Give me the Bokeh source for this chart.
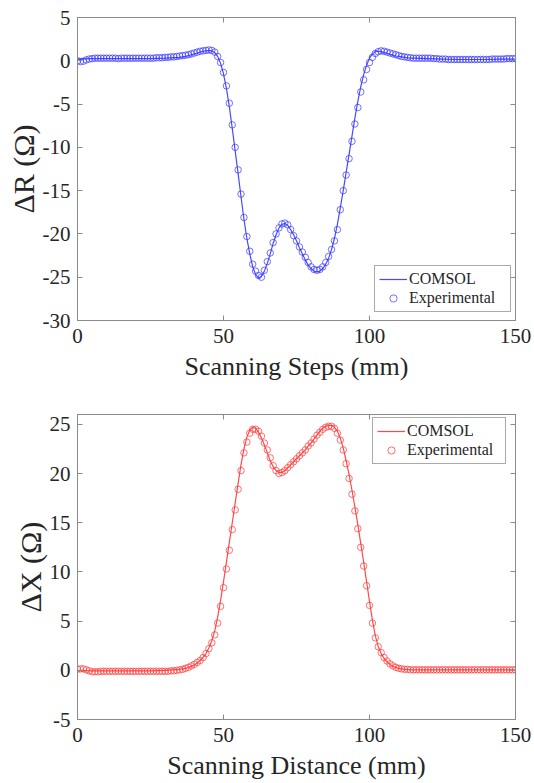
from bokeh.plotting import figure
from bokeh.models import LinearAxis, Legend, LegendItem, FixedTicker, Range1d, PrintfTickFormatter
from bokeh.layouts import column
from bokeh.embed import file_html
from bokeh.resources import INLINE

# ---------------- data ----------------
x_ticks = [0, 50, 100, 150]
r_ticks = [-30, -25, -20, -15, -10, -5, 0, 5]
x_ticks_b = [-5, 0, 5, 10, 15, 20, 25]

exp_x = list(range(0, 151))

exp_dR = [
    0.0, -0.1, -0.05, 0.1, 0.2, 0.25, 0.3, 0.3, 0.3, 0.3,
    0.3, 0.3, 0.3, 0.3, 0.25, 0.3, 0.3, 0.3, 0.3, 0.3,
    0.3, 0.3, 0.3, 0.3, 0.3, 0.3, 0.3, 0.35, 0.35, 0.35,
    0.4, 0.4, 0.45, 0.45, 0.5, 0.55, 0.6, 0.65, 0.7, 0.8,
    0.9, 1.0, 1.1, 1.15, 1.2, 1.25, 1.2, 1.0, 0.5, -0.2,
    -1.35, -2.9, -4.9, -7.4, -10.0, -12.6, -15.4, -18.1, -20.3, -22.0,
    -23.5, -24.3, -24.8, -25.0, -24.2, -23.2, -22.2, -21.0, -20.0, -19.3,
    -18.85, -18.75, -18.95, -19.5, -20.2, -20.8, -21.5, -22.1, -22.7, -23.3,
    -23.8, -24.1, -24.2, -24.1, -23.8, -23.3, -22.6, -21.8, -20.8, -19.5,
    -17.2, -15.0, -13.2, -11.3, -9.3, -7.3, -5.4, -3.6, -2.2, -1.0,
    -0.2, 0.4, 0.85, 1.05, 1.15, 1.1, 1.0, 0.9, 0.8, 0.7,
    0.6, 0.5, 0.45, 0.4, 0.35, 0.3, 0.3, 0.3, 0.3, 0.3,
    0.3, 0.3, 0.25, 0.25, 0.2, 0.2, 0.2, 0.15, 0.15, 0.15,
    0.15, 0.15, 0.15, 0.15, 0.15, 0.15, 0.15, 0.15, 0.15, 0.15,
    0.15, 0.15, 0.2, 0.2, 0.2, 0.2, 0.2, 0.25, 0.25, 0.25,
    0.25,
]

exp_dX = [
    0.1, 0.15, 0.15, 0.05, -0.05, -0.15, -0.15, -0.15, -0.1, -0.1,
    -0.1, -0.1, -0.1, -0.1, -0.1, -0.1, -0.1, -0.1, -0.1, -0.1,
    -0.1, -0.1, -0.1, -0.1, -0.1, -0.1, -0.1, -0.1, -0.1, -0.1,
    -0.1, -0.1, -0.05, -0.05, 0.0, 0.05, 0.1, 0.2, 0.3, 0.45,
    0.6, 0.8, 1.0, 1.3, 1.7, 2.2, 2.8, 3.6, 4.8, 6.5,
    8.4, 10.3, 12.2, 14.3, 16.3, 18.4, 20.3, 22.1, 23.2, 24.1,
    24.5, 24.5, 24.3, 23.8, 23.1, 22.4, 21.6, 20.8, 20.3, 20.0,
    20.1, 20.3, 20.6, 20.9, 21.2, 21.5, 21.8, 22.1, 22.4, 22.8,
    23.1, 23.5, 23.9, 24.2, 24.5, 24.7, 24.8, 24.8, 24.6, 24.1,
    23.4, 22.4, 21.0, 19.5, 17.9, 16.2, 14.4, 12.5, 10.6, 8.6,
    6.6, 4.8, 3.3, 2.4, 1.8, 1.3, 0.95, 0.65, 0.45, 0.3,
    0.2, 0.15, 0.1, 0.1, 0.05, 0.05, 0.05, 0.05, 0.05, 0.05,
    0.05, 0.05, 0.05, 0.05, 0.05, 0.05, 0.05, 0.05, 0.05, 0.05,
    0.05, 0.05, 0.05, 0.05, 0.05, 0.05, 0.05, 0.05, 0.05, 0.05,
    0.05, 0.05, 0.05, 0.05, 0.05, 0.05, 0.05, 0.05, 0.05, 0.05,
    0.05,
]

sim_x = [0, 5, 10, 15, 20, 25, 30, 35] + list(range(36, 116)) + [120, 125, 130, 135, 140, 145, 150]

sim_dR = [
    0.2, 0.25, 0.25, 0.25, 0.25, 0.25, 0.3, 0.4,
    0.45, 0.5, 0.6, 0.7, 0.8, 0.9, 1.0, 1.1, 1.15, 1.2,
    1.15, 0.95, 0.5, -0.3, -1.5, -3.2, -5.3, -7.8, -10.4, -13.0,
    -15.7, -18.3, -20.5, -22.3, -23.8, -24.7, -25.1, -24.9, -24.3, -23.4,
    -22.3, -21.1, -20.1, -19.3, -18.9, -18.8, -19.0, -19.5, -20.1, -20.8,
    -21.6, -22.3, -23.0, -23.6, -24.0, -24.3, -24.4, -24.3, -24.0, -23.5,
    -22.8, -21.8, -20.5, -18.9, -17.0, -15.0, -12.9, -10.8, -8.7, -6.6,
    -4.7, -3.0, -1.6, -0.5, 0.3, 0.8, 1.05, 1.1, 1.05, 0.95,
    0.85, 0.75, 0.65, 0.55, 0.5, 0.45, 0.4, 0.35, 0.3, 0.3,
    0.25, 0.2, 0.15, 0.15, 0.15, 0.2, 0.2,
]

sim_dX = [
    0.0, -0.05, -0.05, -0.05, -0.05, -0.05, 0.0, 0.1,
    0.15, 0.2, 0.3, 0.4, 0.55, 0.75, 1.0, 1.3, 1.7, 2.3,
    3.0, 4.0, 5.4, 7.1, 9.0, 11.0, 13.0, 15.0, 17.0, 19.0,
    20.9, 22.5, 23.7, 24.4, 24.7, 24.6, 24.2, 23.6, 22.9, 22.1,
    21.3, 20.7, 20.3, 20.1, 20.1, 20.3, 20.6, 20.9, 21.2, 21.5,
    21.8, 22.1, 22.4, 22.8, 23.1, 23.5, 23.9, 24.3, 24.6, 24.8,
    24.9, 24.9, 24.7, 24.3, 23.6, 22.6, 21.3, 19.9, 18.3, 16.6,
    14.8, 12.9, 11.0, 9.0, 7.0, 5.1, 3.5, 2.4, 1.7, 1.2,
    0.85, 0.6, 0.4, 0.3, 0.2, 0.15, 0.1, 0.1, 0.05, 0.05,
    0.05, 0.05, 0.05, 0.05, 0.05, 0.05, 0.05,
]

FONT = "Liberation Serif"
FRAME = "#8a8a8a"
TXT = "#262626"


def style_axis(ax, labels=True):
    ax.axis_line_color = FRAME
    ax.major_tick_line_color = FRAME
    ax.major_tick_in = 5
    ax.major_tick_out = 0
    ax.minor_tick_line_color = None
    if labels:
        ax.formatter = PrintfTickFormatter(format="%d")
        ax.major_label_text_font = FONT
        ax.major_label_text_font_size = "21px"
        ax.major_label_text_color = TXT
        ax.axis_label_text_font = FONT
        ax.axis_label_text_font_style = "normal"
        ax.axis_label_text_color = TXT
    else:
        ax.major_label_text_font_size = "1px"
        ax.major_label_text_color = None


def make_plot(ylim, yticks, xlabel, ylabel, sx, sy, ex, ey, color, top_b, bot_b, fh, leg_loc, leg_w):
    p = figure(frame_width=438, frame_height=fh, output_backend="svg", toolbar_location=None,
               x_range=Range1d(0, 150), y_range=Range1d(*ylim),
               min_border_left=77, min_border_right=19, min_border_top=top_b, min_border_bottom=bot_b)
    p.xgrid.visible = False
    p.ygrid.visible = False
    p.outline_line_color = FRAME
    p.background_fill_color = "white"
    p.border_fill_color = "white"

    p.xaxis.ticker = FixedTicker(ticks=x_ticks)
    p.yaxis.ticker = FixedTicker(ticks=yticks)
    p.xaxis.axis_label = xlabel
    p.yaxis.axis_label = ylabel
    for ax in p.xaxis + p.yaxis:
        style_axis(ax)
    p.xaxis.axis_label_text_font_size = "26px"
    p.yaxis.axis_label_text_font_size = "30px"
    p.xaxis.major_label_standoff = 8
    p.yaxis.major_label_standoff = 7
    p.xaxis.axis_label_standoff = 6
    p.yaxis.axis_label_standoff = 0

    ra = LinearAxis(ticker=FixedTicker(ticks=yticks))
    style_axis(ra, labels=False)
    p.add_layout(ra, "right")
    ta = LinearAxis(ticker=FixedTicker(ticks=x_ticks))
    style_axis(ta, labels=False)
    p.add_layout(ta, "above")

    lr = p.line(sx, sy, line_color=color, line_width=1.2, line_alpha=0.9)
    sr = p.scatter(ex, ey, marker="circle", size=6.5, fill_color=None,
                   line_color=color, line_width=1, line_alpha=0.7)

    leg = Legend(items=[LegendItem(label="COMSOL", renderers=[lr]),
                        LegendItem(label="Experimental", renderers=[sr])],
                 location=leg_loc)
    leg.label_text_font = FONT
    leg.label_text_font_size = "16px"
    leg.label_text_color = TXT
    leg.glyph_width = 28
    leg.glyph_height = 18
    leg.label_height = 18
    leg.label_width = leg_w
    leg.label_standoff = 2
    leg.spacing = 1
    leg.padding = 4
    leg.margin = 0
    leg.border_line_color = "#555555"
    leg.border_line_width = 1
    leg.background_fill_alpha = 1
    p.add_layout(leg)
    return p


p1 = make_plot((-30, 5), r_ticks, "Scanning Steps (mm)", "ΔR (Ω)", sim_x, sim_dR, exp_x, exp_dR,
               "#3535ff", 17, 75, 303, (297, 8), 97)
p2 = make_plot((-5, 26), x_ticks_b, "Scanning Distance (mm)", "ΔX (Ω)", sim_x, sim_dX, exp_x, exp_dX,
               "#ff3535", 19, 62, 305, (295, 255), 94)

layout = column(p1, p2, spacing=0)
open("out.html", "w").write(file_html(layout, INLINE))
